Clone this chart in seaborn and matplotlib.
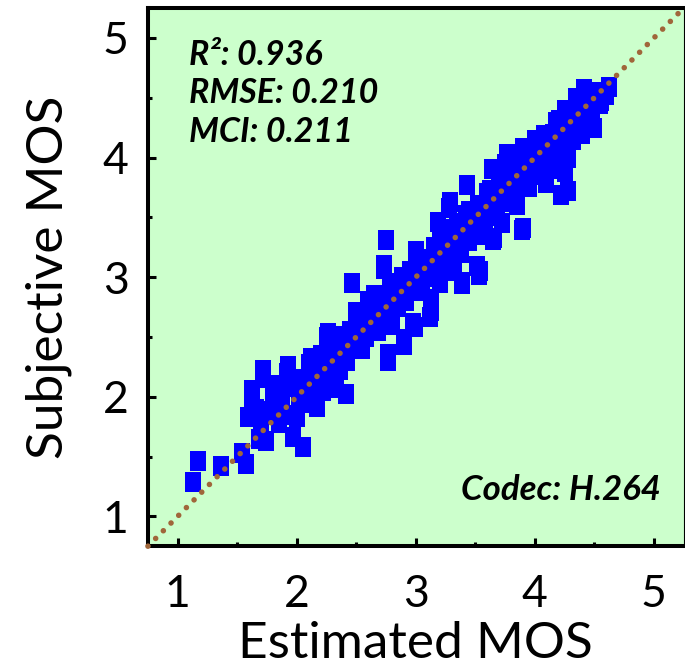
import numpy as np
import pandas as pd
import matplotlib
matplotlib.use("Agg")
import matplotlib.pyplot as plt
import seaborn as sns
from matplotlib.ticker import MultipleLocator

# estimated vs subjective MOS
estimated = [
    1.13, 1.17, 1.36, 1.54, 1.57, 1.59, 1.62, 1.62, 1.68, 1.74, 1.72, 1.72, 1.66, 1.70, 1.78, 1.80,
    1.85, 1.85, 1.88, 1.92, 1.93, 1.95, 1.97, 2.00, 2.05, 2.02, 2.05, 2.10, 2.12, 2.08, 2.15, 2.17,
    2.20, 2.22, 2.26, 2.25, 2.27, 2.29, 2.30, 2.33, 2.36, 2.36, 2.38, 2.41, 2.42, 2.45, 2.46, 2.50,
    2.48, 2.52, 2.55, 2.55, 2.58, 2.60, 2.62, 2.65, 2.68, 2.70, 2.72, 2.73, 2.73, 2.75, 2.75, 2.77,
    2.77, 2.78, 2.80, 2.82, 2.85, 2.88, 2.90, 2.90, 2.92, 2.92, 2.95, 2.98, 2.99, 3.00, 3.00, 3.02,
    3.05, 3.05, 3.08, 3.10, 3.12, 3.13, 3.13, 3.15, 3.15, 3.18, 3.19, 3.20, 3.20, 3.22, 3.25, 3.28,
    3.28, 3.30, 3.29, 3.32, 3.33, 3.35, 3.38, 3.39, 3.39, 3.40, 3.43, 3.42, 3.45, 3.48, 3.49, 3.51,
    3.53, 3.54, 3.52, 3.55, 3.58, 3.60, 3.62, 3.64, 3.64, 3.65, 3.66, 3.68, 3.70, 3.72, 3.74, 3.75,
    3.77, 3.78, 3.80, 3.82, 3.85, 3.89, 3.90, 3.88, 3.90, 3.92, 3.95, 3.98, 4.00, 4.02, 4.05, 4.08,
    4.09, 4.10, 4.12, 4.15, 4.18, 4.20, 4.20, 4.22, 4.25, 4.25, 4.28, 4.28, 4.30, 4.32, 4.35, 4.35,
    4.38, 4.40, 4.41, 4.42, 4.45, 4.48, 4.50, 4.52, 4.55, 4.56, 4.58, 4.60, 4.62,
    1.90, 2.00, 2.10, 2.18, 2.28, 2.35, 2.40, 2.45, 2.50, 2.58, 2.62, 2.66,
    3.25, 3.35, 3.45, 3.55, 3.60, 3.70, 3.72, 3.80, 3.85, 3.95, 4.00, 4.05, 4.15,
    4.18, 4.25, 4.30, 4.45, 4.50, 2.85, 2.95, 3.05, 2.65, 2.40, 2.20, 1.95, 1.80,
]
subjective = [
    1.29, 1.46, 1.42, 1.53, 1.44, 1.83, 2.06, 2.00, 1.65, 1.63, 2.16, 2.22, 1.90, 1.75, 1.88, 2.10,
    1.78, 2.05, 1.95, 2.20, 2.26, 2.08, 1.66, 1.83, 1.58, 2.00, 2.15, 2.27, 2.32, 1.95, 2.10, 1.91,
    2.22, 2.05, 2.53, 2.50, 2.44, 2.07, 2.30, 2.18, 2.22, 2.51, 2.40, 2.02, 2.30, 2.55, 2.95, 2.71,
    2.45, 2.58, 2.40, 2.65, 2.50, 2.80, 2.62, 2.72, 2.55, 2.85, 2.68, 3.07, 3.10, 3.31, 2.78, 2.30,
    2.36, 2.92, 2.60, 2.85, 2.75, 3.00, 2.43, 2.48, 2.99, 2.80, 2.90, 2.62, 2.58, 3.22, 3.05, 2.88,
    3.15, 2.95, 3.00, 3.10, 2.67, 2.82, 2.72, 3.25, 3.00, 3.12, 3.46, 3.30, 2.95, 3.18, 3.05, 3.58,
    3.40, 3.25, 3.63, 3.12, 3.32, 3.45, 3.20, 2.94, 2.96, 3.35, 3.77, 3.52, 3.30, 3.45, 3.38, 3.09,
    3.02, 3.05, 3.60, 3.50, 3.35, 3.70, 3.73, 3.51, 3.90, 3.31, 3.33, 3.60, 3.80, 3.45, 3.63, 3.95,
    4.03, 3.70, 3.72, 3.85, 3.60, 3.39, 3.41, 3.95, 4.08, 3.80, 3.90, 4.05, 3.85, 4.00, 4.10, 4.19,
    3.79, 3.95, 4.05, 4.20, 3.90, 4.31, 4.10, 3.69, 3.88, 4.20, 3.72, 4.00, 4.35, 4.15, 4.50, 4.30,
    4.40, 4.20, 4.57, 4.45, 4.35, 4.40, 4.25, 4.50, 4.45, 4.47, 4.55, 4.52, 4.59,
    1.85, 2.10, 2.05, 2.25, 2.35, 2.45, 2.35, 2.42, 2.55, 2.68, 2.72, 2.60,
    3.40, 3.30, 3.55, 3.40, 3.55, 3.65, 3.88, 3.90, 3.75, 3.75, 4.15, 3.95, 4.00,
    4.30, 4.40, 4.25, 4.52, 4.55, 2.95, 3.05, 3.05, 2.85, 2.50, 2.35, 2.15, 1.95,
]
stats_text = ["R\u00b2: 0.936", "RMSE: 0.210", "MCI: 0.211"]
codec_text = "Codec: H.264"
axis_lim = [0.75, 5.25]
tick_values = [1, 2, 3, 4, 5]

df = pd.DataFrame({"Estimated MOS": estimated, "Subjective MOS": subjective})

sns.set_style("ticks")
plt.rcParams["font.family"] = ["Lato", "DejaVu Sans"]
plt.rcParams["text.color"] = "black"
plt.rcParams["axes.labelcolor"] = "black"
plt.rcParams["xtick.color"] = "black"
plt.rcParams["ytick.color"] = "black"
plt.rcParams["axes.edgecolor"] = "black"

fig = plt.figure(figsize=(6.85, 6.71), dpi=100)
ax = fig.add_axes([0.216, 0.186, 0.782, 0.802])
ax.set_facecolor("#ccffcc")

# tall-ish square markers like the original
rect = [(-0.8, -1), (0.8, -1), (0.8, 1), (-0.8, 1), (-0.8, -1)]
sns.scatterplot(data=df, x="Estimated MOS", y="Subjective MOS", ax=ax,
                marker=rect, s=220, color="#0000ff", edgecolor="#0000ff",
                linewidth=0, zorder=2, legend=False)

ax.plot(axis_lim, axis_lim, color="#a0663a", linewidth=4.0,
        linestyle=(0, (0.01, 1.95)), dash_capstyle="round", zorder=3,
        clip_on=False)

ax.set_xlim(axis_lim)
ax.set_ylim(axis_lim)
ax.set_xticks(tick_values)
ax.set_yticks(tick_values)
ax.xaxis.set_minor_locator(MultipleLocator(0.5))
ax.yaxis.set_minor_locator(MultipleLocator(0.5))
ax.tick_params(which="major", direction="in", length=6, width=2.2,
               labelsize=32, top=False, right=False)
ax.tick_params(axis="x", which="major", pad=20)
ax.tick_params(axis="y", which="major", pad=14)
ax.tick_params(which="minor", direction="in", length=3, width=2.2,
               top=False, right=False)

for side in ["left", "bottom", "top"]:
    ax.spines[side].set_linewidth(2.9)
ax.spines["right"].set_linewidth(0.8)

ax.set_xlabel("Estimated MOS", fontsize=37, labelpad=4)
ax.set_ylabel("Subjective MOS", fontsize=37, labelpad=22)

for i, t in enumerate(stats_text):
    ax.text(0.077, 0.894 - i * 0.071, t, transform=ax.transAxes,
            fontsize=24.5, fontweight="bold", fontstyle="italic", va="baseline")
ax.text(0.957, 0.0855, codec_text, transform=ax.transAxes, ha="right",
        fontsize=25, fontweight="bold", fontstyle="italic", va="baseline")

plt.savefig("out.png", dpi=100)
